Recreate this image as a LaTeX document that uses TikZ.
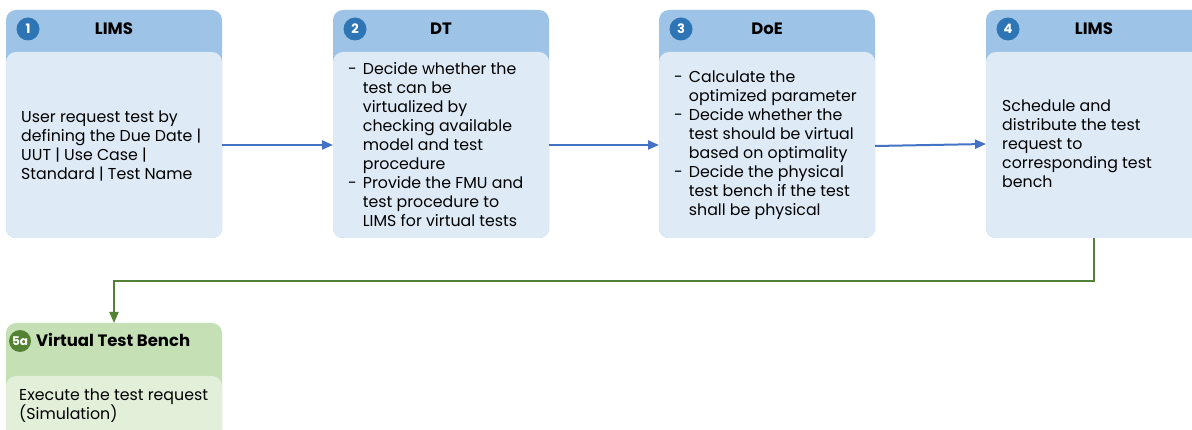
\documentclass[tikz,border=0pt]{standalone}
\usepackage{fontspec}
\setmainfont{Poppins}
\usetikzlibrary{arrows.meta,calc}
\definecolor{hdrblue}{HTML}{9DC3E6}
\definecolor{bodyblue}{HTML}{DEEBF7}
\definecolor{badgeblue}{HTML}{2E75B6}
\definecolor{arrblue}{HTML}{4472C4}
\definecolor{hdrgreen}{HTML}{C5E0B4}
\definecolor{bodygreen}{HTML}{E2F0D9}
\definecolor{badgegreen}{HTML}{548235}
\begin{document}
\begin{tikzpicture}[x=1pt,y=1pt,
  outerbox/.style={rectangle,rounded corners=10pt,inner sep=0,outer sep=0,minimum width=216,anchor=north west},
  innerbox/.style={rectangle,rounded corners=10pt,inner sep=0,outer sep=0,minimum width=216,anchor=south west},
  badge/.style={circle,inner sep=0,minimum size=23,text=white,font=\fontsize{13}{13}\selectfont\bfseries},
  titletext/.style={inner sep=0,font=\fontsize{16.5}{18}\selectfont\bfseries},
  bodytext/.style={inner sep=0,anchor=west,align=left,font=\fontsize{15.8}{19}\selectfont},
  flow/.style={draw=arrblue,line width=2pt,-{Triangle[length=11pt,width=9pt]}},
  gflow/.style={draw=badgegreen,line width=2pt,-{Triangle[length=11pt,width=9pt]}}
]
\clip (0,0) rectangle (1192,-430);
\fill[white] (0,0) rectangle (1192,-430);

% Box 1
\node[outerbox,fill=hdrblue,minimum height=228] (b1) at (6,-10) {};
\node[innerbox,fill=bodyblue,minimum height=186] (b1in) at (b1.south west) {};
\node[badge,fill=badgeblue] (n1) at (28,-29) {1};
\node[titletext] (t1) at (114,-29) {LIMS};
\node[bodytext] (x1) at (21,-145.5) {User request test by\\defining the Due Date |\\UUT | Use Case |\\Standard | Test Name};

% Box 2
\node[outerbox,fill=hdrblue,minimum height=228] (b2) at (333,-10) {};
\node[innerbox,fill=bodyblue,minimum height=186] (b2in) at (b2.south west) {};
\node[badge,fill=badgeblue] (n2) at (355,-29) {2};
\node[titletext] (t2) at (441,-29) {DT};
\node[bodytext] (x2) at (348,-146.5) {\begin{tabular}{@{}l@{\hspace{6pt}}l@{}}
-& Decide whether the\\
 & test can be\\
 & virtualized by\\
 & checking available\\
 & model and test\\
 & procedure\\
-& Provide the FMU and\\
 & test procedure to\\
 & LIMS for virtual tests
\end{tabular}};

% Box 3
\node[outerbox,fill=hdrblue,minimum height=228] (b3) at (659,-10) {};
\node[innerbox,fill=bodyblue,minimum height=186] (b3in) at (b3.south west) {};
\node[badge,fill=badgeblue] (n3) at (681,-29) {3};
\node[titletext] (t3) at (767,-29) {DoE};
\node[bodytext] (x3) at (674,-145.5) {\begin{tabular}{@{}l@{\hspace{6pt}}l@{}}
-& Calculate the\\
 & optimized parameter\\
-& Decide whether the\\
 & test should be virtual\\
 & based on optimality\\
-& Decide the physical\\
 & test bench if the test\\
 & shall be physical
\end{tabular}};

% Box 4
\node[outerbox,fill=hdrblue,minimum height=228] (b4) at (986,-10) {};
\node[innerbox,fill=bodyblue,minimum height=186] (b4in) at (b4.south west) {};
\node[badge,fill=badgeblue] (n4) at (1008,-29) {4};
\node[titletext] (t4) at (1094,-29) {LIMS};
\node[bodytext] (x4) at (1002,-144) {Schedule and\\distribute the test\\request to\\corresponding test\\bench};

% Box 5a
\node[outerbox,fill=hdrgreen,minimum height=130] (b5) at (6,-323) {};
\node[innerbox,fill=bodygreen,minimum height=77] (b5in) at (b5.south west) {};
\node[badge,fill=badgegreen,minimum size=22,font=\fontsize{12}{12}\selectfont\bfseries] (n5) at (20,-341) {5a};
\node[titletext,anchor=west] (t5) at (36,-340) {Virtual Test Bench};
\node[bodytext] (x5) at (19,-406) {Execute the test request\\(Simulation)};

% Connectors
\draw[flow] (b1in.east) -- (b2in.west);
\draw[flow] (b2in.east) -- (b3in.west);
\draw[flow] ($(b3in.east)+(0,-1)$) -- ($(b4in.west)+(0,1)$);
\draw[gflow] (b4in.south) -- ++(0,-43) -| (b5.north);
\end{tikzpicture}
\end{document}
